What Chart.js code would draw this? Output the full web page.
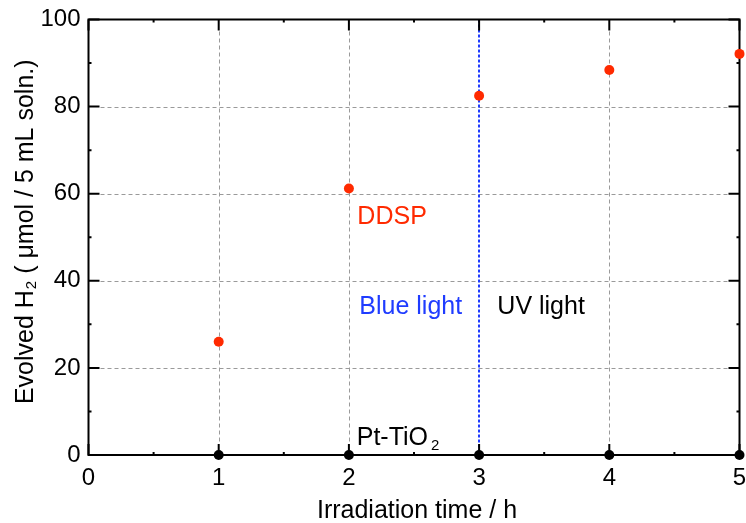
<!DOCTYPE html>
<html><head><meta charset="utf-8">
<script src="https://cdn.jsdelivr.net/npm/chart.js@4.4.1/dist/chart.umd.min.js"></script>
<style>html,body{margin:0;padding:0;background:#fff;}#wrap{width:746px;height:523px;}</style>
</head><body><div id="wrap"><canvas id="c" width="746" height="523"></canvas></div>
<script>
const hours = [1, 2, 3, 4, 5];
const ddsp = [26.0, 61.2, 82.5, 88.4, 92.1];
const ptTiO2 = [0, 0, 0, 0, 0];
const xTicks = [0, 1, 2, 3, 4, 5];
const yTicks = [0, 20, 40, 60, 80, 100];
const lightSwitchAt = 3;

const FONT = '"Liberation Sans", Arial, sans-serif';
const RED = '#ff2a00', BLUE = '#1f3cff';

const decor = {
  id: 'decor',
  beforeDatasetsDraw(chart) {
    const {ctx, chartArea: a, scales: {x, y}} = chart;
    ctx.save();
    ctx.strokeStyle = '#9a9a9a'; ctx.lineWidth = 1; ctx.setLineDash([4, 3]);
    [20, 40, 60, 80].forEach(v => {
      const py = Math.round(y.getPixelForValue(v)) + 0.5;
      ctx.beginPath(); ctx.moveTo(a.left + 12, py); ctx.lineTo(a.right - 12, py); ctx.stroke();
    });
    [1, 2, 4].forEach(v => {
      const px = Math.round(x.getPixelForValue(v)) + 0.5;
      ctx.beginPath(); ctx.moveTo(px, a.top + 12); ctx.lineTo(px, a.bottom - 12); ctx.stroke();
    });
    ctx.strokeStyle = BLUE; ctx.lineWidth = 2; ctx.setLineDash([3, 2]);
    const bx = Math.round(x.getPixelForValue(lightSwitchAt));
    ctx.beginPath(); ctx.moveTo(bx, a.top); ctx.lineTo(bx, a.bottom); ctx.stroke();
    ctx.setLineDash([]);
    ctx.strokeStyle = '#000'; ctx.lineWidth = 2;
    ctx.strokeRect(a.left, a.top, a.right - a.left, a.bottom - a.top);
    xTicks.forEach(v => {
      const px = x.getPixelForValue(v);
      ctx.beginPath(); ctx.moveTo(px, a.bottom); ctx.lineTo(px, a.bottom - 11);
      ctx.moveTo(px, a.top); ctx.lineTo(px, a.top + 11); ctx.stroke();
      if (v < 5) {
        const pm = x.getPixelForValue(v + 0.5);
        ctx.beginPath(); ctx.moveTo(pm, a.bottom); ctx.lineTo(pm, a.bottom - 3);
        ctx.moveTo(pm, a.top); ctx.lineTo(pm, a.top + 3); ctx.stroke();
      }
    });
    yTicks.forEach(v => {
      const py = y.getPixelForValue(v);
      ctx.beginPath(); ctx.moveTo(a.left, py); ctx.lineTo(a.left + 11, py);
      ctx.moveTo(a.right, py); ctx.lineTo(a.right - 11, py); ctx.stroke();
      if (v < 100) {
        const pm = y.getPixelForValue(v + 10);
        ctx.beginPath(); ctx.moveTo(a.left, pm); ctx.lineTo(a.left + 3, pm);
        ctx.moveTo(a.right, pm); ctx.lineTo(a.right - 3, pm); ctx.stroke();
      }
    });
    ctx.restore();
  },
  afterDraw(chart) {
    const {ctx, chartArea: a, scales: {x, y}} = chart;
    ctx.save();
    ctx.textBaseline = 'middle'; ctx.textAlign = 'left';
    ctx.font = '25px ' + FONT;
    ctx.fillStyle = RED; ctx.fillText('DDSP', x.getPixelForValue(2.065), y.getPixelForValue(54.6));
    ctx.fillStyle = BLUE; ctx.fillText('Blue light', x.getPixelForValue(2.08), y.getPixelForValue(34.0));
    ctx.fillStyle = '#000'; ctx.fillText('UV light', x.getPixelForValue(3.14), y.getPixelForValue(34.0));
    ctx.textBaseline = 'alphabetic';
    let px = x.getPixelForValue(2.06), base = y.getPixelForValue(2.2);
    ctx.fillText('Pt-TiO', px, base);
    px += ctx.measureText('Pt-TiO').width + 3;
    ctx.font = '15px ' + FONT; ctx.fillText('2', px, base + 5);
    ctx.font = '25px ' + FONT; ctx.textAlign = 'center';
    ctx.fillText('Irradiation time / h', (a.left + a.right) / 2 + 3, 518);
    ctx.translate(33, (a.top + a.bottom) / 2 - 5);
    ctx.rotate(-Math.PI / 2);
    ctx.textAlign = 'left';
    const p1 = 'Evolved H', p2 = '2', p3 = ' ( \u03bcmol / 5 mL soln.)';
    ctx.font = '25px ' + FONT; const w1 = ctx.measureText(p1).width, w3 = ctx.measureText(p3).width;
    ctx.font = '15px ' + FONT; const w2 = ctx.measureText(p2).width;
    let sx = -(w1 + w2 + w3) / 2;
    ctx.font = '25px ' + FONT; ctx.fillText(p1, sx, 0); sx += w1 + 1;
    ctx.font = '15px ' + FONT; ctx.fillText(p2, sx, 3); sx += w2;
    ctx.font = '25px ' + FONT; ctx.fillText(p3, sx, 0);
    ctx.restore();
  }
};

new Chart(document.getElementById('c'), {
  type: 'scatter',
  data: {
    datasets: [
      { label: 'DDSP', data: hours.map((h, i) => ({x: h, y: ddsp[i]})),
        backgroundColor: RED, borderColor: RED, pointRadius: 5, borderWidth: 0, clip: false },
      { label: 'Pt-TiO2', data: hours.map((h, i) => ({x: h, y: ptTiO2[i]})),
        backgroundColor: '#000', borderColor: '#000', pointRadius: 5, borderWidth: 0, clip: false }
    ]
  },
  plugins: [decor],
  options: {
    responsive: false, animation: false,
    layout: { padding: { top: 19.5, right: 6.5, left: 0, bottom: 0 } },
    plugins: { legend: { display: false }, tooltip: { enabled: false } },
    scales: {
      x: { type: 'linear', min: 0, max: 5,
        afterBuildTicks: s => { s.ticks = xTicks.map(v => ({value: v})); },
        afterFit: s => { s.height = 68; s.paddingLeft = 0; s.paddingRight = 0; },
        grid: { display: false, drawTicks: false }, border: { display: false },
        ticks: { color: '#000', padding: 9, font: { size: 24, family: FONT } } },
      y: { min: 0, max: 100,
        afterBuildTicks: s => { s.ticks = yTicks.map(v => ({value: v})); },
        afterFit: s => { s.width = 88.5; s.paddingTop = 0; s.paddingBottom = 0; },
        grid: { display: false, drawTicks: false }, border: { display: false },
        ticks: { color: '#000', padding: 8, font: { size: 24, family: FONT } } }
    }
  }
});
</script></body></html>
